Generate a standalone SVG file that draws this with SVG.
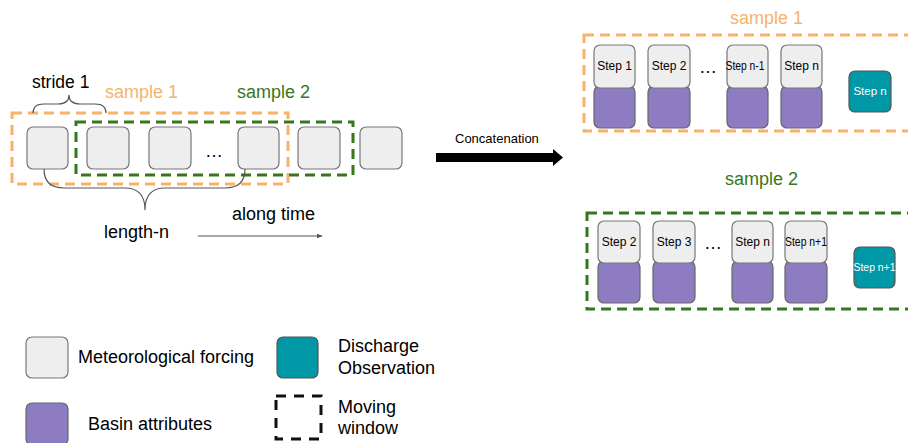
<svg xmlns="http://www.w3.org/2000/svg" width="908" height="443" viewBox="0 0 908 443">
  <style>
    text { font-family: "Liberation Sans", Arial, sans-serif; fill: #000; }
    .met { fill: #eeeeee; stroke: #777; stroke-width: 1.2; }
    .basin { fill: #8e7cc3; stroke: #666; stroke-width: 1.2; }
    .obs { fill: #0097a7; stroke: #555; stroke-width: 1.2; }
    .win1 { fill: none; stroke: #f6b26b; stroke-width: 3; stroke-dasharray: 10 6; }
    .win2 { fill: none; stroke: #38761d; stroke-width: 3; stroke-dasharray: 10 6; }
    .winL { fill: none; stroke: #111; stroke-width: 3; stroke-dasharray: 10 8; }
    .brace { fill: none; stroke: #555; stroke-width: 1.2; }
    .lbl { font-size: 18px; }
    .step { font-size: 12px; }
    .stepw { font-size: 11.5px; fill: #fff; }
    .dots { font-size: 18px; }
    .or { fill: #f6b26b; }
    .gr { fill: #38761d; }
  </style>
  <defs>
    <marker id="tip" viewBox="0 0 10 10" refX="9" refY="5" markerWidth="6" markerHeight="6" orient="auto">
      <path d="M0,1 L10,5 L0,9 z" fill="#555"/>
    </marker>
  </defs>

  <!-- time series of forcing boxes -->
  <g id="series">
    <rect class="met" x="27" y="127" width="41" height="42" rx="6"/>
    <rect class="met" x="87" y="127" width="42" height="42" rx="6"/>
    <rect class="met" x="149" y="127" width="42" height="42" rx="6"/>
    <text class="dots" x="214" y="157" text-anchor="middle">…</text>
    <rect class="met" x="238" y="127" width="41" height="42" rx="6"/>
    <rect class="met" x="298" y="127" width="42" height="42" rx="6"/>
    <rect class="met" x="360" y="127" width="42" height="42" rx="6"/>
  </g>

  <g id="window-sample1">
    <rect class="win1" x="12" y="113" width="276" height="71"/>
    <text class="lbl or" x="105" y="98">sample 1</text>
  </g>
  <g id="window-sample2">
    <rect class="win2" x="76" y="122" width="277" height="53"/>
    <text class="lbl gr" x="237" y="98">sample 2</text>
  </g>

  <g id="stride">
    <path class="brace" d="M33,113 Q33,104 44,104 L58,104 Q69,104 69,95 Q69,104 80,104 L95,104 Q106,104 106,113"/>
    <text x="32" y="88" font-size="17.5">stride 1</text>
  </g>

  <g id="length">
    <path class="brace" d="M44,169 Q44,188 64,188 L125,188 Q145,188 145,210 Q145,188 165,188 L225,188 Q245,188 245,169"/>
    <text class="lbl" x="104" y="238">length-n</text>
  </g>

  <g id="connectors">
    <line x1="198" y1="236" x2="322" y2="236" stroke="#555" stroke-width="1" marker-end="url(#tip)"/>
    <path d="M436,153 L553,153 L553,149 L563,157.5 L553,166 L553,162 L436,162 z" fill="#000"/>
  </g>
  <text class="lbl" x="232" y="220">along time</text>
  <text x="455" y="143" font-size="13">Concatenation</text>

  <!-- concatenated sample 1 -->
  <g id="sample1">
    <text class="lbl or" x="730" y="24">sample 1</text>
    <rect class="win1" x="584" y="35" width="340" height="96"/>
    <rect class="basin" x="594" y="86" width="41" height="42" rx="6"/>
    <rect class="met" x="594" y="45" width="41" height="43" rx="6"/>
    <text class="step" x="614.5" y="70" text-anchor="middle">Step 1</text>
    <rect class="basin" x="648" y="86" width="42" height="42" rx="6"/>
    <rect class="met" x="648" y="45" width="42" height="43" rx="6"/>
    <text class="step" x="669" y="70" text-anchor="middle">Step 2</text>
    <text class="dots" x="708" y="73" text-anchor="middle">…</text>
    <rect class="basin" x="727" y="86" width="41" height="42" rx="6"/>
    <rect class="met" x="727" y="45" width="41" height="43" rx="6"/>
    <text class="step" x="745" y="70" text-anchor="middle" textLength="39" lengthAdjust="spacingAndGlyphs">Step n-1</text>
    <rect class="basin" x="781" y="86" width="41" height="42" rx="6"/>
    <rect class="met" x="781" y="45" width="41" height="43" rx="6"/>
    <text class="step" x="801.5" y="70" text-anchor="middle">Step n</text>
    <rect class="obs" x="849" y="71" width="42" height="41" rx="6"/>
    <text class="stepw" x="870" y="95" text-anchor="middle">Step n</text>
  </g>

  <!-- concatenated sample 2 -->
  <g id="sample2">
    <text class="lbl gr" x="725" y="185">sample 2</text>
    <rect class="win2" x="587" y="213" width="340" height="96"/>
    <rect class="basin" x="598" y="261" width="42" height="42" rx="6"/>
    <rect class="met" x="598" y="221" width="42" height="42" rx="6"/>
    <text class="step" x="619" y="246" text-anchor="middle">Step 2</text>
    <rect class="basin" x="653" y="261" width="42" height="42" rx="6"/>
    <rect class="met" x="653" y="221" width="42" height="42" rx="6"/>
    <text class="step" x="674" y="246" text-anchor="middle">Step 3</text>
    <text class="dots" x="713" y="249" text-anchor="middle">…</text>
    <rect class="basin" x="732" y="261" width="41" height="42" rx="6"/>
    <rect class="met" x="732" y="221" width="41" height="42" rx="6"/>
    <text class="step" x="752.5" y="246" text-anchor="middle">Step n</text>
    <rect class="basin" x="785" y="261" width="42" height="42" rx="6"/>
    <rect class="met" x="785" y="221" width="42" height="42" rx="6"/>
    <text class="step" x="806" y="246" text-anchor="middle" textLength="42" lengthAdjust="spacingAndGlyphs">Step n+1</text>
    <rect class="obs" x="854" y="247" width="41" height="41" rx="6"/>
    <text class="stepw" x="874.5" y="271" text-anchor="middle" textLength="42" lengthAdjust="spacingAndGlyphs">Step n+1</text>
  </g>

  <!-- legend -->
  <g id="legend-forcing">
    <rect class="met" x="26" y="337" width="42" height="41" rx="6"/>
    <text class="lbl" x="78" y="363">Meteorological forcing</text>
  </g>
  <g id="legend-discharge">
    <rect class="obs" x="277" y="337" width="41" height="41" rx="6"/>
    <text class="lbl" x="338" y="352">Discharge</text>
    <text class="lbl" x="338" y="374">Observation</text>
  </g>
  <g id="legend-basin">
    <rect class="basin" x="26" y="403" width="42" height="42" rx="6"/>
    <text class="lbl" x="88" y="430">Basin attributes</text>
  </g>
  <g id="legend-window">
    <rect class="winL" x="276" y="396" width="45" height="43"/>
    <text class="lbl" x="338" y="413">Moving</text>
    <text class="lbl" x="338" y="434">window</text>
  </g>
</svg>
